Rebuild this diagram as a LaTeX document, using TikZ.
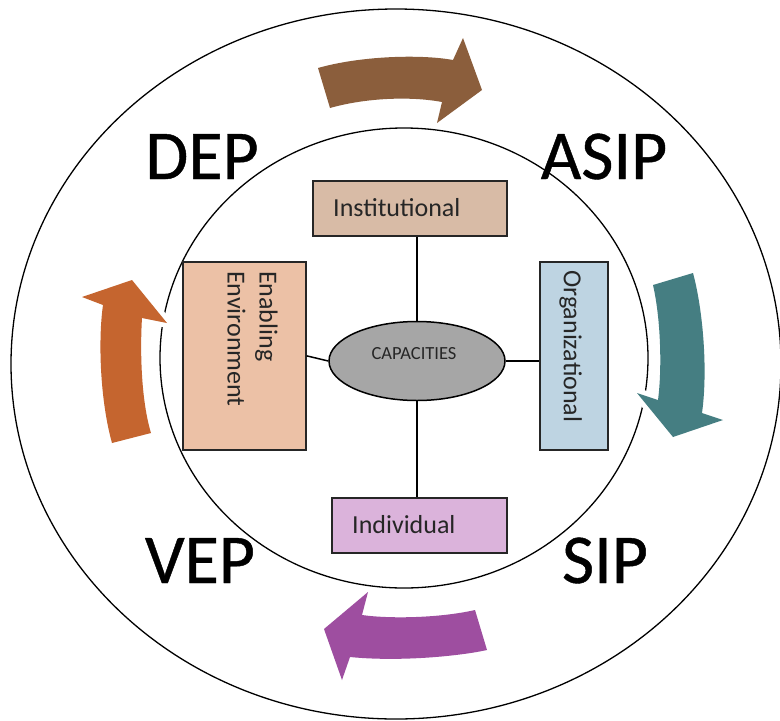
\documentclass[tikz,border=0pt]{standalone}
\usepackage{fontspec}
\setmainfont{Carlito}
\newfontfamily\bigfont{Carlito}[FakeBold=0.6]
\usetikzlibrary{shapes.geometric}
\definecolor{arrbrown}{HTML}{8B5E3C}
\definecolor{arrteal}{HTML}{457E82}
\definecolor{arrpurple}{HTML}{9E4EA0}
\definecolor{arrorange}{HTML}{C5652F}
\definecolor{instc}{HTML}{D8BBA6}
\definecolor{enabc}{HTML}{ECC1A6}
\definecolor{orgc}{HTML}{BED4E2}
\definecolor{indc}{HTML}{DBB3DB}
\definecolor{capc}{HTML}{A6A6A6}
\begin{document}
\begin{tikzpicture}[x=1pt,y=-1pt,
  ring/.style={draw=black, line width=1.3pt},
  boxst/.style={draw=black!85, line width=1.7pt, inner sep=0pt, anchor=north west},
  lab/.style={font=\fontsize{26}{32}\selectfont, inner sep=0pt, text=black!85},
  caplab/.style={font=\fontsize{18.5}{22}\selectfont, inner sep=0pt, text=black!85, anchor=base},
  big/.style={font=\bigfont\fontsize{70}{70}\selectfont, inner sep=0pt, anchor=base, text=black},
  link/.style={draw=black, line width=1.5pt},
  blockarrow/.style={fill=#1, preaction={draw=white, line width=10pt, line join=round}}
]
\useasboundingbox (0,0) rectangle (780,721);
\fill[white] (0,0) rectangle (780,721);

% rings
\draw[ring] (396,364) ellipse [x radius=385, y radius=355];
\draw[ring] (404,358) ellipse [x radius=244, y radius=230];

% curved block arrows
\path[blockarrow=arrbrown] (318,68) .. controls (360,56) and (420,54) .. (453,60) -- (463,38) -- (482,90) -- (437,123) -- (442,102) .. controls (410,96) and (365,98) .. (330,108) -- cycle;
\path[blockarrow=arrteal] (653,285) -- (693,273) .. controls (703,310) and (708,370) .. (702,413) -- (723,420) -- (673,437) -- (637,393) -- (658,400) .. controls (662,370) and (661,320) .. (653,285) -- cycle;
\path[blockarrow=arrpurple] (475,610) -- (487,650) .. controls (460,656) and (400,662) .. (350,657) -- (342,680) -- (324,629) -- (368,592) -- (362,615) .. controls (390,619) and (440,618) .. (475,610) -- cycle;
\path[blockarrow=arrorange] (112,443) -- (151,433) .. controls (141,400) and (140,350) .. (142,318) -- (167,323) -- (132,280) -- (82,297) -- (103,305) .. controls (98,340) and (100,400) .. (112,443) -- cycle;

% boxes
\node[boxst, fill=instc, minimum width=194pt, minimum height=55pt] (inst) at (312,180) {};
\node[boxst, fill=enabc, minimum width=123pt, minimum height=188pt] (enab) at (182,261) {};
\node[boxst, fill=orgc, minimum width=68pt, minimum height=188pt] (org) at (539,261) {};
\node[boxst, fill=indc, minimum width=175pt, minimum height=55pt] (indiv) at (331,497) {};
\node[draw=black, line width=1.5pt, ellipse, fill=capc, minimum width=176pt, minimum height=79pt, inner sep=0pt] (cap) at (417,361) {};

% connectors
\draw[link] (inst.south -| cap.north) -- (cap.north);
\draw[link] (cap.south) -- (cap.south |- indiv.north);
\draw[link] (enab.east) -- (cap.west);
\draw[link] (cap.east) -- (cap.east -| org.west);

% box texts
\node[lab, anchor=base west] (insttxt) at (333,216) {Institutional};
\node[lab, anchor=base west] (indtxt) at (352,533) {Individual};
\node[lab, rotate=-90, anchor=north west, align=left] (enabtxt) at (278,271) {Enabling\\Environment};
\node[lab, rotate=-90, anchor=north west] (orgtxt) at (582,270) {Organizational};
\node[caplab] (captxt) at (414,359) {CAPACITIES};

% big labels
\node[big] (dep) at (202,179) {DEP};
\node[big] (asip) at (604,179) {ASIP};
\node[big] (vep) at (200,583) {VEP};
\node[big] (sip) at (605,583) {SIP};
\end{tikzpicture}
\end{document}
